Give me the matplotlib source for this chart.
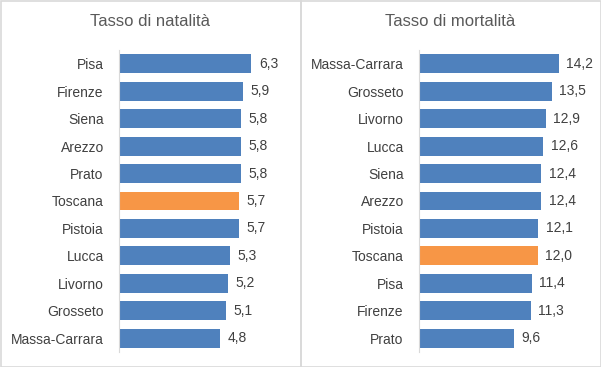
import matplotlib.pyplot as plt
from matplotlib.patches import Rectangle

# Data (top to bottom as shown)
natalita_labels = ['Pisa', 'Firenze', 'Siena', 'Arezzo', 'Prato', 'Toscana',
                   'Pistoia', 'Lucca', 'Livorno', 'Grosseto', 'Massa-Carrara']
natalita_values = [6.3, 5.9, 5.8, 5.8, 5.8, 5.7, 5.7, 5.3, 5.2, 5.1, 4.8]

mortalita_labels = ['Massa-Carrara', 'Grosseto', 'Livorno', 'Lucca', 'Siena', 'Arezzo',
                    'Pistoia', 'Toscana', 'Pisa', 'Firenze', 'Prato']
mortalita_values = [14.2, 13.5, 12.9, 12.6, 12.4, 12.4, 12.1, 12.0, 11.4, 11.3, 9.6]

BLUE = '#4F81BD'
ORANGE = '#F79646'
TEXT = '#404040'
GRID = '#D9D9D9'

plt.rcParams['font.family'] = ['Liberation Sans', 'DejaVu Sans']

W, H = 601, 367
fig = plt.figure(figsize=(W / 100, H / 100), dpi=100)


def px_axes(x0, y0, x1, y1):
    # pixel box (top-left origin) -> figure fraction
    return fig.add_axes([x0 / W, 1 - y1 / H, (x1 - x0) / W, (y1 - y0) / H])


def panel(ax, labels, values, xmax, title, title_x):
    n = len(labels)
    pos = list(range(n))[::-1]
    colors = [ORANGE if l == 'Toscana' else BLUE for l in labels]
    ax.barh(pos, values, height=0.69, color=colors)
    ax.set_xlim(0, xmax)
    ax.set_ylim(-0.5, n - 0.5)
    ax.set_yticks(pos)
    ax.set_yticklabels(labels, fontsize=10, color=TEXT)
    ax.tick_params(axis='y', length=0, pad=11)
    ax.set_xticks([])
    for s in ['top', 'right', 'bottom']:
        ax.spines[s].set_visible(False)
    ax.spines['left'].set_color(GRID)
    for p, v in zip(pos, values):
        ax.text(v + xmax * 0.045, p, f'{v:.1f}'.replace('.', ','), va='center',
                ha='left', fontsize=10, color=TEXT)
    fig.text(title_x / W, 1 - 22 / H, title, ha='center', va='center',
             fontsize=12, color='#595959')


ax1 = px_axes(119, 50, 287, 352)
panel(ax1, natalita_labels, natalita_values, 8, 'Tasso di natalità', 150)

ax2 = px_axes(419, 50, 577, 352)
panel(ax2, mortalita_labels, mortalita_values, 16, 'Tasso di mortalità', 450)

# panel borders
for x0, x1 in [(0.5, 300.5), (300.5, 600.5)]:
    fig.patches.append(Rectangle((x0 / W, 0.5 / H), (x1 - x0) / W, (H - 1.5) / H,
                                 transform=fig.transFigure, fill=False,
                                 edgecolor=GRID, linewidth=1.2))

fig.savefig('out.png', dpi=100)
